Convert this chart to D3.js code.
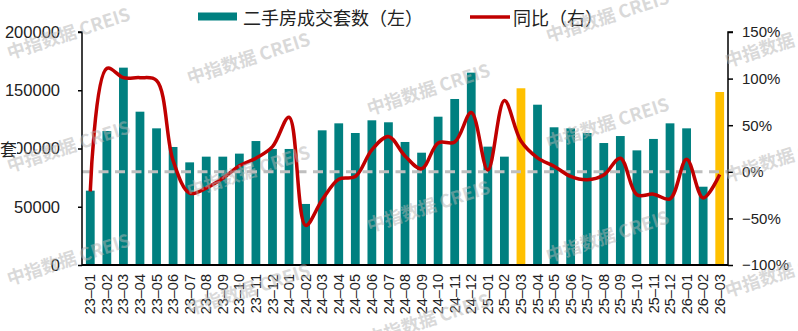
<!DOCTYPE html>
<html><head><meta charset="utf-8">
<script src="https://cdn.jsdelivr.net/npm/d3@7"></script>
<style>
html,body{margin:0;padding:0;background:#fff;}
svg{display:block;}
</style></head>
<body><div id="chart"></div>
<script>
const months = ["23-01","23-02","23-03","23-04","23-05","23-06","23-07","23-08","23-09","23-10","23-11","23-12",
"24-01","24-02","24-03","24-04","24-05","24-06","24-07","24-08","24-09","24-10","24-11","24-12",
"25-01","25-02","25-03","25-04","25-05","25-06","25-07","25-08","25-09","25-10","25-11","25-12",
"26-01","26-02","26-03"];
const volumes = [63800,115000,169400,131600,117300,101300,88100,93000,93000,95600,106400,99600,
99600,52400,115600,121600,113300,124200,122500,105600,96400,127300,142500,165100,
101600,93000,151700,137600,118200,117300,113300,104700,110700,98400,108200,121600,
117300,67200,148500];
const yoy = [-21,111,101,101,98,12,-23,-17.5,-7,6.4,14.6,27,
58.6,-57.5,-30,-7.9,-5,23.6,37.9,17,3.2,31,32,63.6,
2,76.4,33,15,6,-5,-8.6,-3.5,14.6,-24.6,-24,-29,
13.5,-28,-3];
const highlight = ["25-03","26-03"];
const leftTicks = [0,50000,100000,150000,200000];
const rightTicks = [-100,-50,0,50,100,150];
const rightTickLabels = ["\u2212100%","\u221250%","0%","50%","100%","150%"];
const legendLabels = ["二手房成交套数（左）","同比（右）"];
const unitLabel = "套";
const watermark = "中指数据 CREIS";

const W=798,H=331;
const L=82,R=728,T=32,B=265;
const svg=d3.select("#chart").append("svg").attr("width",W).attr("height",H);
svg.append("rect").attr("width",W).attr("height",H).attr("fill","#fff");

const x=d3.scaleBand().domain(months).range([L,R]).paddingInner(0.47).paddingOuter(0.235);
const y=d3.scaleLinear().domain([0,200000]).range([B,T]);
const y2=d3.scaleLinear().domain([-100,150]).range([B,T]);
const cx=d=>x(d)+x.bandwidth()/2;

// bars
svg.append("g").selectAll("rect").data(months).join("rect")
  .attr("x",d=>x(d)).attr("width",x.bandwidth())
  .attr("y",(d,i)=>y(volumes[i])).attr("height",(d,i)=>B-y(volumes[i]))
  .attr("fill",d=>highlight.includes(d)?"#FFC000":"#008080");

// zero dashed line
svg.append("line").attr("x1",L).attr("x2",R).attr("y1",y2(0)).attr("y2",y2(0))
  .attr("stroke","#BFBFBF").attr("stroke-width",3).attr("stroke-dasharray","10,6.5");

// line
const line=d3.line().x((d,i)=>cx(months[i])).y(d=>y2(d)).curve(d3.curveCatmullRom.alpha(0.5));
svg.append("path").datum(yoy).attr("d",line).attr("fill","none")
  .attr("stroke","#C00000").attr("stroke-width",3.5).attr("stroke-linejoin","round");

// axes
const fontLat="'Liberation Sans', Arial, sans-serif";
const ax1=svg.append("g").attr("transform",`translate(${L},0)`)
  .call(d3.axisLeft(y).tickValues(leftTicks).tickFormat(d3.format("d")).tickSize(4).tickPadding(18));
const ax2=svg.append("g").attr("transform",`translate(${R},0)`)
  .call(d3.axisRight(y2).tickValues(rightTicks).tickFormat((d,i)=>rightTickLabels[i]).tickSize(5).tickPadding(9));
[ax1,ax2].forEach(a=>{
  a.select(".domain").attr("stroke","#000").attr("stroke-width",1.5);
  a.selectAll(".tick line").attr("stroke","#000").attr("stroke-width",1.5);
  a.selectAll("text").attr("fill","#222").style("font-family",fontLat);
});
ax1.selectAll("text").style("font-size","16.5px");
ax2.selectAll("text").style("font-size","15px");
ax1.select(".domain").attr("d",`M-4,${T}H0V${B}`);
ax2.select(".domain").attr("d",`M5,${T}H0V${B}`);

// bottom axis
const ax3=svg.append("g").attr("transform",`translate(0,${B})`)
  .call(d3.axisBottom(x).tickSize(0).tickFormat(d=>d.replace("-","\u2013")));
ax3.select(".domain").attr("stroke","#000").attr("stroke-width",2).attr("d",`M${L},0H${R}`);
ax3.selectAll("text").attr("fill","#222").style("font-family",fontLat).style("font-size","14.5px")
  .attr("transform","rotate(-90)").attr("text-anchor","end").attr("dy","0.35em")
  .attr("x",-9).attr("y",0);

// unit label with white backing
svg.append("rect").attr("x",0).attr("y",137).attr("width",17).attr("height",19).attr("fill","#fff");
svg.append("text").attr("x",0).attr("y",148).attr("dominant-baseline","central")
  .style("font-family","'Noto Sans CJK SC',sans-serif").style("font-size","17px").attr("fill","#222").text(unitLabel);

// legend
const lg=svg.append("g");
lg.append("rect").attr("x",198).attr("y",12.5).attr("width",39).attr("height",8).attr("fill","#008080");
lg.append("text").attr("x",243).attr("y",17).attr("dominant-baseline","central")
  .style("font-family","'Noto Sans CJK SC',sans-serif").style("font-size","18px").attr("fill","#222").text(legendLabels[0]);
lg.append("line").attr("x1",470).attr("x2",510).attr("y1",17).attr("y2",17).attr("stroke","#C00000").attr("stroke-width",3.5);
lg.append("text").attr("x",513).attr("y",17).attr("dominant-baseline","central")
  .style("font-family","'Noto Sans CJK SC',sans-serif").style("font-size","18px").attr("fill","#222").text(legendLabels[1]);

// watermarks
const wmPos=[[68,32],[68,145],[68,258],[248,57],[248,170],[248,288],[428,88],[428,205],[428,318],
[607,15],[607,122],[607,235],[786,40],[786,155],[786,270]];
svg.append("g").selectAll("text").data(wmPos).join("text")
  .attr("transform",d=>`translate(${d[0]},${d[1]}) rotate(-18)`)
  .attr("text-anchor","middle").attr("dominant-baseline","central")
  .style("font-family","'Noto Sans CJK SC',sans-serif").style("font-size","18px").style("font-weight","bold")
  .attr("fill","rgba(180,180,180,0.5)").text(watermark);
</script></body></html>
